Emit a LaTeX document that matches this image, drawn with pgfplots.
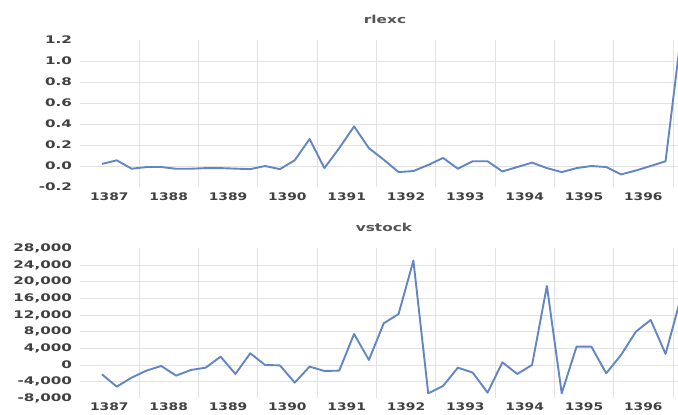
\documentclass[border=0pt]{standalone}
\usepackage{fontspec}
\setmainfont{DejaVu Sans}
\newfontfamily\lab{DejaVu Sans}[FakeStretch=1.32]
\newfontfamily\laby{DejaVu Sans}[FakeStretch=1.45]
\newfontfamily\ttlfont{DejaVu Sans}[FakeStretch=1.4]
\usepackage{pgfplots}
\pgfplotsset{compat=1.18}
\definecolor{ln}{HTML}{6286C4}
\definecolor{tk}{HTML}{404040}
\definecolor{ttl}{HTML}{555555}
\definecolor{gr}{HTML}{E2E2E2}
\pgfplotsset{
  common/.style={
    scale only axis, width=598.33bp,
    xmin=1387, xmax=1397.085,
    scaled y ticks=false,
    axis line style={draw=none},
    major tick length=0pt, minor tick length=0pt,
    xtick={1387.5,1388.5,1389.5,1390.5,1391.5,1392.5,1393.5,1394.5,1395.5,1396.5},
    xticklabels={1387,1388,1389,1390,1391,1392,1393,1394,1395,1396},
    minor xtick={1388,1389,1390,1391,1392,1393,1394,1395,1396,1397},
    xminorgrids, yminorgrids,
    minor grid style={gr, line width=0.9bp},
    xticklabel style={font=\lab\bfseries\fontsize{10.5}{12}\selectfont, text=tk, anchor=north, inner sep=0pt},
    yticklabel style={font=\laby\bfseries\fontsize{10.5}{12}\selectfont, text=tk, anchor=east, inner sep=0pt, xshift=-7.5bp},
    clip=true,
  }
}
\begin{document}
\begin{tikzpicture}[x=1bp,y=1bp]
\useasboundingbox (0,0) rectangle (678,414);
\begin{axis}[common, at={(79.67bp,227bp)}, anchor=south west, height=147bp,
  ymin=-0.2, ymax=1.2,
  ytick={-0.2,0,0.2,0.4,0.6,0.8,1.0,1.2},
  yticklabels={-0.2,0.0,0.2,0.4,0.6,0.8,1.0,1.2},
  minor ytick={0,0.2,0.4,0.6,0.8,1.0},
  xticklabel style={yshift=-6bp}]
\addplot[ln, line width=1.9bp, line join=round] coordinates {
(1387.375,0.02) (1387.625,0.054) (1387.875,-0.026) (1388.125,-0.01)
(1388.375,-0.01) (1388.625,-0.026) (1388.875,-0.026) (1389.125,-0.02)
(1389.375,-0.02) (1389.625,-0.025) (1389.875,-0.03) (1390.125,0.0)
(1390.375,-0.03) (1390.625,0.055) (1390.875,0.257) (1391.125,-0.02)
(1391.375,0.17) (1391.625,0.377) (1391.875,0.17) (1392.125,0.06)
(1392.375,-0.058) (1392.625,-0.048) (1392.875,0.01) (1393.125,0.077)
(1393.375,-0.026) (1393.625,0.045) (1393.875,0.045) (1394.125,-0.052)
(1394.375,-0.01) (1394.625,0.032) (1394.875,-0.02) (1395.125,-0.058)
(1395.375,-0.02) (1395.625,0.0) (1395.875,-0.01) (1396.125,-0.08)
(1396.375,-0.043) (1396.625,0.0) (1396.875,0.045) (1397.125,1.2)
};
\end{axis}
\begin{axis}[common, at={(79.67bp,15.7bp)}, anchor=south west, height=150bp,
  ymin=-8000, ymax=28000,
  ytick={-8000,-4000,0,4000,8000,12000,16000,20000,24000,28000},
  yticklabels={-8{,}000,-4{,}000,0,4{,}000,8{,}000,12{,}000,16{,}000,20{,}000,24{,}000,28{,}000},
  minor ytick={-4000,0,4000,8000,12000,16000,20000,24000},
  xticklabel style={yshift=-4.5bp}]
\addplot[ln, line width=1.9bp, line join=round] coordinates {
(1387.375,-2240) (1387.625,-5200) (1387.875,-3040) (1388.125,-1360)
(1388.375,-240) (1388.625,-2560) (1388.875,-1200) (1389.125,-640)
(1389.375,2000) (1389.625,-2160) (1389.875,2800) (1390.125,0)
(1390.375,-100) (1390.625,-4240) (1390.875,-400) (1391.125,-1440)
(1391.375,-1360) (1391.625,7440) (1391.875,1200) (1392.125,10000)
(1392.375,12240) (1392.625,25040) (1392.875,-6800) (1393.125,-5040)
(1393.375,-640) (1393.625,-1840) (1393.875,-6640) (1394.125,640)
(1394.375,-2160) (1394.625,0) (1394.875,18960) (1395.125,-6800)
(1395.375,4400) (1395.625,4400) (1395.875,-2000) (1396.125,2400)
(1396.375,8000) (1396.625,10800) (1396.875,2640) (1397.125,15700)
};
\end{axis}
\node[font=\ttlfont\bfseries\fontsize{11}{13}\selectfont, text=ttl] at (385,395) {rlexc};
\node[font=\ttlfont\bfseries\fontsize{11}{13}\selectfont, text=ttl] at (384,186.5) {vstock};
\end{tikzpicture}
\end{document}
